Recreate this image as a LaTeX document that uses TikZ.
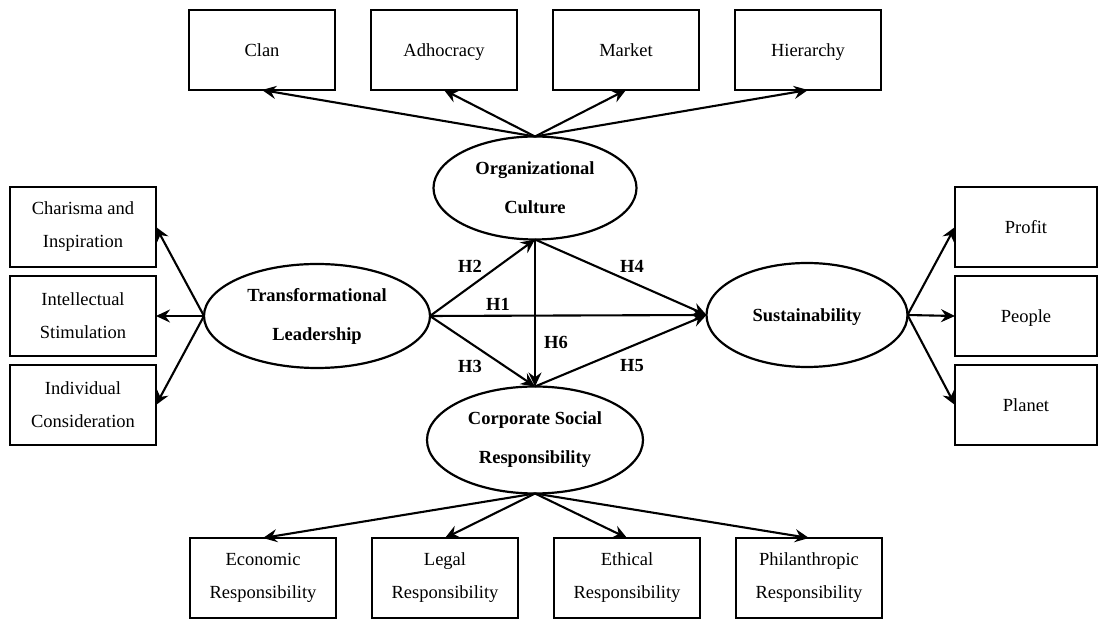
\documentclass[tikz,border=0pt]{standalone}
\usepackage{fontspec}
\setmainfont{Liberation Serif}
\usetikzlibrary{shapes.geometric,positioning,arrows.meta}
\tikzset{
	dim/.style={
		rectangle,
		draw,
		line width=1.3pt,
		minimum width=73pt,
		minimum height=40pt,
		inner sep=0pt,
		outer sep=0pt,
		align=center,
		font=\fontsize{9.25}{16.5}\selectfont
	},
	oneline/.style={
		text height=7.5pt,
		text depth=1pt
	}
}

\begin{document}
\begin{tikzpicture}[x=0.5pt,y=-0.5pt]
		\tikzstyle{main}=[ellipse, draw=black, line width=1.1pt, inner sep=0pt, outer sep=0pt, align=center, font=\fontsize{9.25}{19.5}\selectfont\bfseries]
		\tikzstyle{connect}=[line width=1.05pt, -{Stealth[length=7pt,width=6.5pt,inset=2.4pt]}]
		\tikzstyle{hyp}=[font=\fontsize{9.25}{11}\selectfont\bfseries, inner sep=1pt]
		\useasboundingbox (0,0) rectangle (1098,619);

		% the four constructs
		\node[main, minimum width=113pt, minimum height=52pt] (tl) at (317,316) {Transformational\\Leadership};
		\node[main, minimum width=101.5pt, minimum height=51.5pt] (oc) at (535,188) {Organizational\\Culture};
		\node[main, minimum width=108pt, minimum height=53.5pt] (csr) at (535,440) {Corporate Social\\Responsibility};
		\node[main, oneline, minimum width=100.5pt, minimum height=52pt] (sus) at (807,315) {Sustainability};

		% culture types
		\node[dim, oneline] (clan) at (262,50) {Clan};
		\node[dim, oneline, right=18pt of clan] (adhocracy) {Adhocracy};
		\node[dim, oneline, right=18pt of adhocracy] (market) {Market};
		\node[dim, oneline, right=18pt of market] (hierarchy) {Hierarchy};

		% leadership dimensions
		\node[dim] (charisma) at (83,227) {Charisma and\\Inspiration};
		\node[dim, below=4.5pt of charisma] (intellect) {Intellectual\\Stimulation};
		\node[dim, below=4.5pt of intellect] (individual) {Individual\\Consideration};

		% triple bottom line
		\node[dim, oneline, minimum width=71pt] (profit) at (1026,227) {Profit};
		\node[dim, oneline, minimum width=71pt, below=4.5pt of profit] (people) {People};
		\node[dim, oneline, minimum width=71pt, below=4.5pt of people] (planet) {Planet};

		% csr dimensions
		\node[dim] (economic) at (263,578) {Economic\\Responsibility};
		\node[dim, right=18pt of economic] (legal) {Legal\\Responsibility};
		\node[dim, right=18pt of legal] (ethical) {Ethical\\Responsibility};
		\node[dim, right=18pt of ethical] (philanthropic) {Philanthropic\\Responsibility};

		\path
		(oc.north) edge [connect] (clan.south)
		(oc.north) edge [connect] (adhocracy.south)
		(oc.north) edge [connect] (market.south)
		(oc.north) edge [connect] (hierarchy.south)

		(tl.west) edge [connect] (charisma.east)
		(tl.west) edge [connect] (intellect.east)
		(tl.west) edge [connect] (individual.east)

		(sus.east) edge [connect] (profit.west)
		(sus.east) edge [connect] (people.west)
		(sus.east) edge [connect] (planet.west)

		(csr.south) edge [connect] (economic.north)
		(csr.south) edge [connect] (legal.north)
		(csr.south) edge [connect] (ethical.north)
		(csr.south) edge [connect] (philanthropic.north)

		% hypotheses
		(tl.east) edge [connect] (sus.west)
		(tl.east) edge [connect] (oc.south)
		(tl.east) edge [connect] (csr.north)
		(oc.south) edge [connect] (sus.west)
		(csr.north) edge [connect] (sus.west)
		(oc.south) edge [connect] (csr.north)
		;

		\node[hyp] (h1) at (498,304) {H1};
		\node[hyp] (h2) at (470,266) {H2};
		\node[hyp] (h3) at (470,366) {H3};
		\node[hyp] (h4) at (632,266) {H4};
		\node[hyp] (h5) at (632,366) {H5};
		\node[hyp] (h6) at (556,342) {H6};

\end{tikzpicture}
\end{document}
